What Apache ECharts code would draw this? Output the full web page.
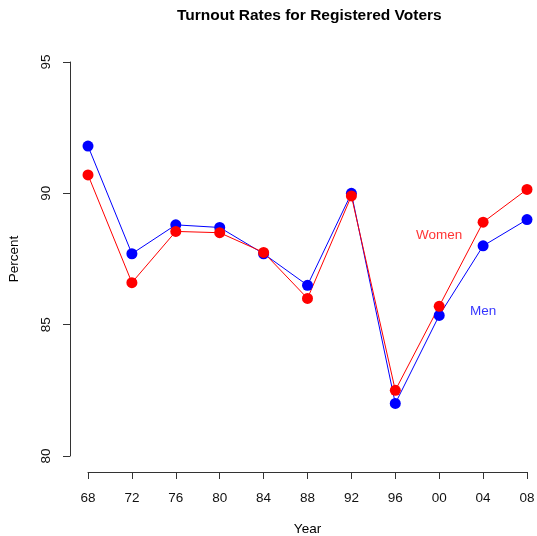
<!DOCTYPE html>
<html>
<head>
<meta charset="utf-8">
<script src="https://cdn.jsdelivr.net/npm/echarts@6/dist/echarts.min.js"></script>
<style>html,body{margin:0;padding:0;background:#fff}#c{width:537px;height:536px}</style>
</head>
<body>
<div id="c"></div>
<script>
var years = [1968, 1972, 1976, 1980, 1984, 1988, 1992, 1996, 2000, 2004, 2008];
var men = [91.8, 87.7, 88.8, 88.7, 87.7, 86.5, 90.0, 82.0, 85.35, 88.0, 89.0];
var women = [90.7, 86.6, 88.55, 88.5, 87.75, 86.0, 89.9, 82.5, 85.7, 88.9, 90.15];
var labelNames = ['Women', 'Men'];
var labelX = [2000, 2004];
var labelY = [88.4, 85.5];
var yTicks = [80, 85, 90, 95];

var FONT = 'Liberation Sans, Arial, sans-serif';
var chart = echarts.init(document.getElementById('c'), null, {renderer: 'canvas'});
function pairs(xs, ys) { return xs.map(function (x, i) { return [x, ys[i]]; }); }

chart.setOption({
  animation: false,
  backgroundColor: '#fff',
  title: {
    text: 'Turnout Rates for Registered Voters',
    left: 172, top: 3,
    textStyle: {fontFamily: FONT, fontSize: 15.5, fontWeight: 'bold', color: '#000'}
  },
  grid: {left: 88, right: 10, top: 62, bottom: 80, containLabel: false, outerBoundsMode: 'none'},
  xAxis: {
    type: 'value', min: 1968, max: 2008, interval: 4, offset: 16,
    name: 'Year', nameLocation: 'middle', nameGap: 50,
    nameTextStyle: {fontFamily: FONT, fontSize: 13.5, color: '#000'},
    axisLine: {show: true, lineStyle: {color: '#333', width: 1}},
    axisTick: {show: true, length: 7, lineStyle: {color: '#333'}},
    axisLabel: {fontFamily: FONT, fontSize: 13.5, color: '#111', margin: 19,
      formatter: function (v) { return String(v).slice(2); }},
    splitLine: {show: false}
  },
  yAxis: {
    type: 'value', min: yTicks[0], max: yTicks[yTicks.length - 1], interval: 5, offset: 18,
    name: 'Percent', nameLocation: 'middle', nameGap: 49,
    nameTextStyle: {fontFamily: FONT, fontSize: 13.5, color: '#000'},
    axisLine: {show: true, lineStyle: {color: '#333', width: 1}},
    axisTick: {show: true, length: 7, lineStyle: {color: '#333'}},
    axisLabel: {fontFamily: FONT, fontSize: 13.5, color: '#111', margin: 17, rotate: 90},
    splitLine: {show: false}
  },
  series: [
    {
      name: 'Men', type: 'line', data: pairs(years, men),
      symbol: 'circle', symbolSize: 11, showSymbol: true,
      itemStyle: {color: '#0000ff'}, lineStyle: {color: '#0000ff', width: 1}
    },
    {
      name: 'Women', type: 'line', data: pairs(years, women),
      symbol: 'circle', symbolSize: 11, showSymbol: true,
      itemStyle: {color: '#ff0000'}, lineStyle: {color: '#ff0000', width: 1}
    },
    {
      type: 'scatter', symbolSize: 0, silent: true,
      data: labelNames.map(function (n, i) {
        return {value: [labelX[i], labelY[i]], name: n,
          label: {color: i === 0 ? '#ff0000' : '#0000ff'}};
      }),
      label: {show: true, position: 'inside', formatter: '{b}',
        fontFamily: FONT, fontSize: 13.5}
    }
  ]
});
</script>
</body>
</html>
